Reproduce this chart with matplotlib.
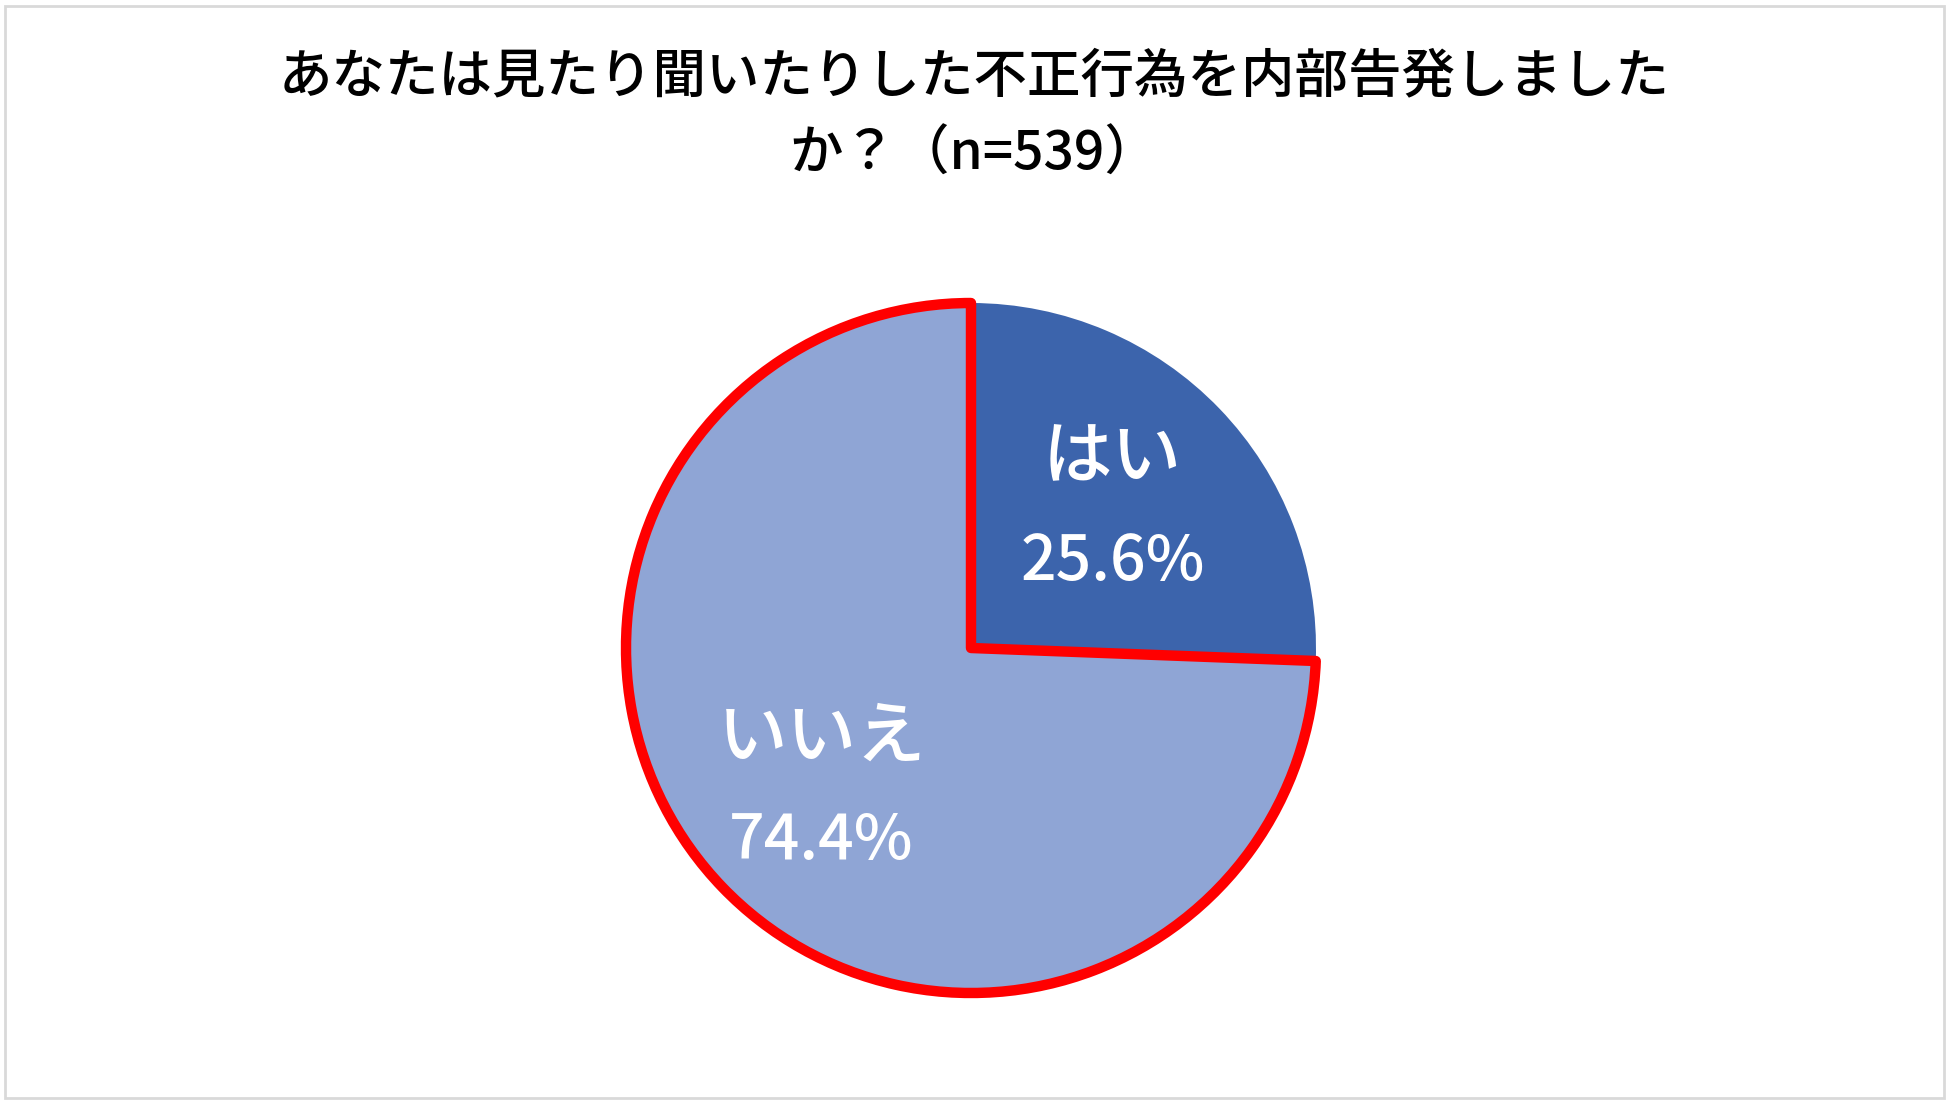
import numpy as np
import matplotlib.pyplot as plt
from matplotlib.patches import Rectangle

plt.rcParams['font.family'] = ['Noto Sans CJK JP', 'DejaVu Sans']

title_lines = ['あなたは見たり聞いたりした不正行為を内部告発しました', 'か？（n=539）']
labels = ['はい', 'いいえ']
values = [25.6, 74.4]
colors = ['#3C64AC', '#8FA5D5']

W, H = 1950, 1103
fig = plt.figure(figsize=(W / 100, H / 100), dpi=100)
ax = fig.add_axes([0, 0, 1, 1])

cx, cy, r = 971, H - 648, 345
wedges, _ = ax.pie(values, colors=colors, startangle=90, counterclock=False,
                   center=(cx, cy), radius=r, frame=True,
                   wedgeprops=dict(linewidth=0))

# red outline on the "いいえ" slice
wedges[1].set_edgecolor('#FF0000')
wedges[1].set_linewidth(7.5)
wedges[1].set_joinstyle('round')
wedges[1].set_zorder(3)

for w, lab, v in zip(wedges, labels, values):
    mid = np.deg2rad((w.theta1 + w.theta2) / 2)
    x = cx + 0.585 * r * np.cos(mid)
    y = cy + 0.585 * r * np.sin(mid)
    ax.text(x - 4, y + 50, lab, color='white', fontsize=50, fontweight='medium',
            ha='center', va='center', zorder=5)
    ax.text(x - 4, y - 54, f'{v:.1f}%', color='white', fontsize=45, fontweight='medium',
            ha='center', va='center', zorder=5)

for i, line in enumerate(title_lines):
    ax.text(974, H - 77 - i * 78, line, fontsize=38.5, fontweight='medium',
            ha='center', va='center')

ax.add_patch(Rectangle((5, 5), W - 11, H - 11, fill=False, edgecolor='#D9D9D9', linewidth=2))

ax.set_xlim(0, W)
ax.set_ylim(0, H)
ax.set_aspect('equal')
ax.axis('off')

plt.savefig('out.png', dpi=100)
